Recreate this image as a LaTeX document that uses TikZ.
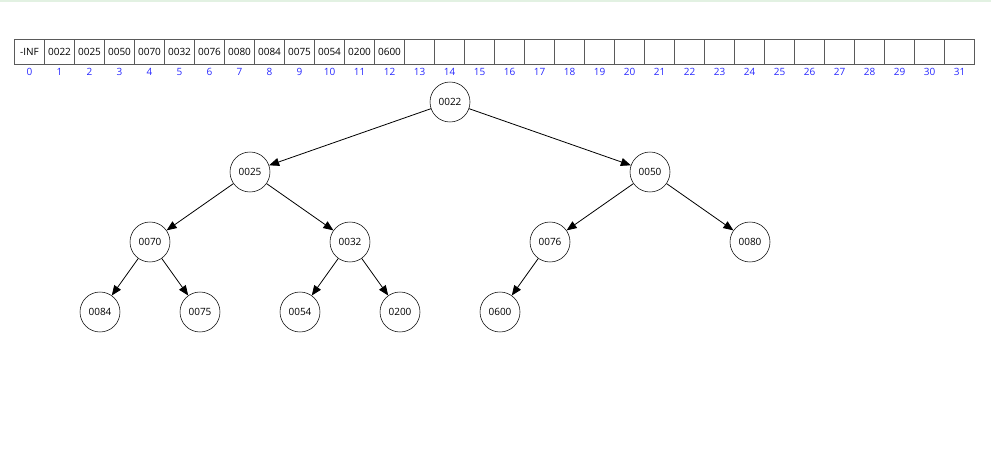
\documentclass[tikz,border=0pt]{standalone}
\usepackage{fontspec}
\setmainfont{Open Sans}
\usetikzlibrary{arrows.meta}
\definecolor{gridgray}{RGB}{90,90,90}
\definecolor{idxblue}{RGB}{40,40,255}
\definecolor{topgreen}{RGB}{226,241,226}
\begin{document}
\begin{tikzpicture}[
		x=0.75pt, y=-0.75pt,
		small/.style={font=\fontsize{7.5pt}{8pt}\selectfont},
		cell/.style={draw=gridgray, minimum width=22.5pt, minimum height=18.75pt, inner sep=0pt, small},
		idx/.style={text=idxblue, inner sep=0pt, small},
		hnode/.style={draw, circle, minimum size=30pt, inner sep=0pt, small},
		link/.style={-{Triangle[length=7.5pt,width=6pt]}, semithick}
	]
		\useasboundingbox (0,0) rectangle (991,460);
		\fill[topgreen] (0,0) rectangle (991,2.5);
		% array cells and indices
		\foreach \i in {0,...,31}
			{
			\node[cell] (c\i) at (29.5+30*\i,51.7) {};
			\node[idx] (i\i) at (29.5+30*\i,72) {\i};
			}
		\foreach \v [count=\i from 0] in {-INF,0022,0025,0050,0070,0032,0076,0080,0084,0075,0054,0200,0600}
			\node[small] at (c\i) {\v};
		% heap as a tree
		\node[hnode] (n1) at (450,102) {0022};
		\node[hnode] (n2) at (250,172) {0025};
		\node[hnode] (n3) at (650,172) {0050};
		\node[hnode] (n4) at (150,242) {0070};
		\node[hnode] (n5) at (350,242) {0032};
		\node[hnode] (n6) at (550,242) {0076};
		\node[hnode] (n7) at (750,242) {0080};
		\node[hnode] (n8) at (100,312) {0084};
		\node[hnode] (n9) at (200,312) {0075};
		\node[hnode] (n10) at (300,312) {0054};
		\node[hnode] (n11) at (400,312) {0200};
		\node[hnode] (n12) at (500,312) {0600};
		\foreach \p/\c in {1/2,1/3,2/4,2/5,3/6,3/7,4/8,4/9,5/10,5/11,6/12}
			\draw[link] (n\p) -- (n\c);
	\end{tikzpicture}
\end{document}
